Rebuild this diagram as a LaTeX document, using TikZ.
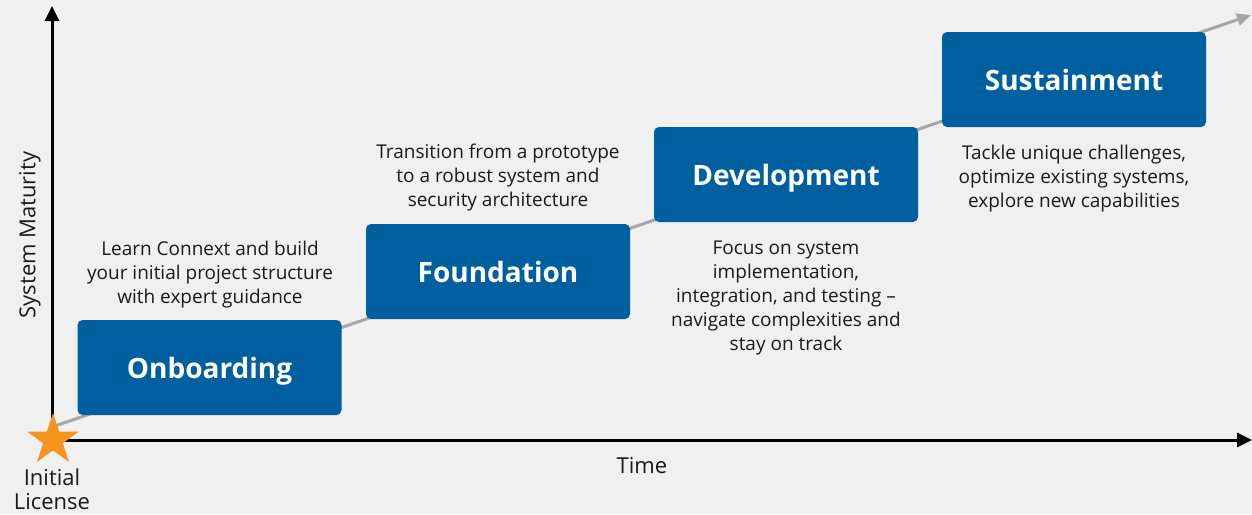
\documentclass[tikz,border=0pt]{standalone}
\usepackage{fontspec}
\setmainfont{Open Sans}
\usetikzlibrary{shapes.geometric,arrows.meta}
\definecolor{bgc}{HTML}{F0F0F0}
\definecolor{boxblue}{HTML}{005F9E}
\definecolor{trend}{HTML}{A6A6A6}
\definecolor{staror}{HTML}{F7941D}
\definecolor{txt}{HTML}{1A1A1A}
\tikzset{
  stage/.style={fill=boxblue, rounded corners=5pt, minimum width=264pt, minimum height=95pt, inner sep=0pt, text=white, text height=21pt, text depth=0pt, font=\fontsize{28}{30}\selectfont\bfseries},
  desc/.style={align=center, text=txt, font=\fontsize{19}{24}\selectfont, inner sep=0pt},
  axislabel/.style={text=txt, font=\fontsize{22}{24}\selectfont, inner sep=0pt},
  axis/.style={line width=3pt, -{Triangle[length=15pt,width=14pt]}},
}
\begin{document}
\begin{tikzpicture}[x=1pt,y=-1pt]
\fill[bgc] (0,0) rectangle (1252,514);
\useasboundingbox (0,0) rectangle (1252,514);
% trend line
\coordinate (t0) at (52,427);
\coordinate (t1) at (1251,15);
\draw[trend, line width=3pt, -{Triangle[length=14pt,width=12pt]}] (t0) -- (t1);
% axes
\coordinate (o) at (52,440);
\coordinate (ytop) at (52,6);
\coordinate (xend) at (1252,440);
\draw[axis] (o) -- (ytop);
\draw[axis] (o) -- (xend);
% star
\node[star, star points=5, star point ratio=2.6, fill=staror, minimum size=54pt, inner sep=0pt] (star) at (53,440) {};
% boxes
\node[stage] (onb) at (209.5,367.5) {Onboarding};
\node[stage] (fnd) at (498,271.5) {Foundation};
\node[stage] (dev) at (786,174.5) {Development};
\node[stage] (sus) at (1074,79.5) {Sustainment};
% descriptions
\node[desc] (d1) at (210,275) {Learn Connext and build\\your initial project structure\\with expert guidance};
\node[desc] (d2) at (498,178) {Transition from a prototype\\to a robust system and\\security architecture};
\node[desc] (d3) at (786,298) {Focus on system\\implementation,\\integration, and testing --\\navigate complexities and\\stay on track};
\node[desc] (d4) at (1074,179) {Tackle unique challenges,\\optimize existing systems,\\explore new capabilities};
% axis labels
\node[axislabel, rotate=90] (ylab) at (30,235) {System Maturity};
\node[axislabel] (xlab) at (642,466) {Time};
\node[axislabel, align=center, font=\fontsize{22}{24}\selectfont] (init) at (52,489) {Initial\\License};
\end{tikzpicture}
\end{document}
